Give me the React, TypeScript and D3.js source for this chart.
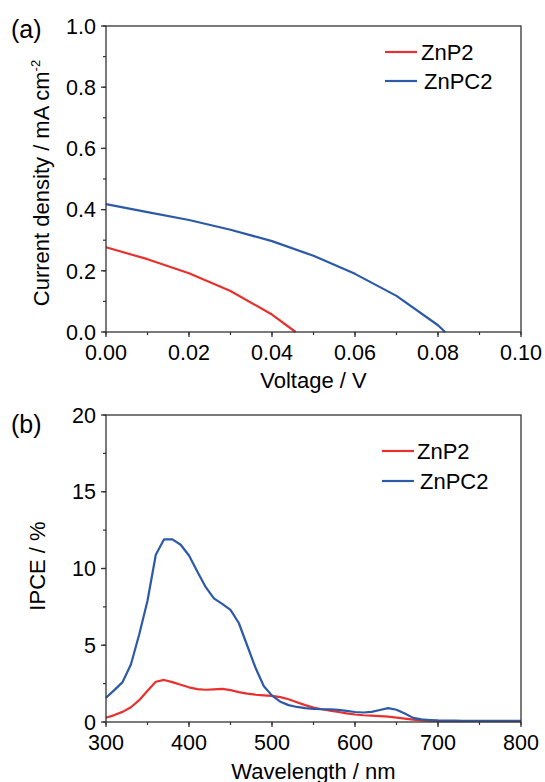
import React from "react";
import * as d3 from "d3";

const W = 545;
const H = 782;

// Panel (a): J-V curves
const voltageTicks = [0, 0.02, 0.04, 0.06, 0.08, 0.1];
const currentTicks = [0, 0.2, 0.4, 0.6, 0.8, 1.0];
const znp2Voltage = [0, 0.01, 0.02, 0.03, 0.04, 0.0457];
const znp2Current = [0.277, 0.238, 0.192, 0.134, 0.057, 0];
const znpc2Voltage = [0, 0.01, 0.02, 0.03, 0.04, 0.05, 0.06, 0.07, 0.08, 0.0817];
const znpc2Current = [0.418, 0.392, 0.366, 0.334, 0.297, 0.249, 0.19, 0.118, 0.022, 0];

// Panel (b): IPCE spectra
const wavelengthTicks = [300, 400, 500, 600, 700, 800];
const ipceTicks = [0, 5, 10, 15, 20];
const wavelength = [
  300, 310, 320, 330, 340, 350, 360, 370, 380, 390, 400, 410, 420, 430, 440, 450, 460,
  470, 480, 490, 500, 510, 520, 530, 540, 550, 560, 570, 580, 590, 600, 610, 620, 630,
  640, 650, 660, 670, 680, 690, 700, 710, 720, 730, 740, 750, 760, 770, 780, 790, 800,
];
const ipceZnP2 = [
  0.28, 0.45, 0.66, 0.96, 1.42, 2.03, 2.62, 2.74, 2.6, 2.43, 2.26, 2.14, 2.1, 2.13, 2.16,
  2.08, 1.95, 1.85, 1.78, 1.74, 1.7, 1.62, 1.48, 1.29, 1.1, 0.94, 0.83, 0.74, 0.65, 0.56,
  0.49, 0.44, 0.41, 0.38, 0.35, 0.29, 0.22, 0.15, 0.1, 0.07, 0.06, 0.05, 0.05, 0.05, 0.05,
  0.05, 0.05, 0.05, 0.05, 0.05, 0.05,
];
const ipceZnPC2 = [
  1.58, 2.08, 2.6, 3.75, 5.7, 7.9, 10.9, 11.9, 11.9, 11.55, 10.85, 9.8, 8.8, 8.05, 7.7,
  7.3, 6.45, 5.0, 3.55, 2.35, 1.72, 1.32, 1.1, 0.98, 0.9, 0.85, 0.83, 0.82, 0.79, 0.72,
  0.65, 0.62, 0.66, 0.78, 0.9, 0.8, 0.55, 0.27, 0.17, 0.13, 0.1, 0.09, 0.09, 0.08, 0.08,
  0.08, 0.08, 0.08, 0.08, 0.08, 0.08,
];

const seriesNames = ["ZnP2", "ZnPC2"];
const RED = "#e8302e";
const BLUE = "#2c5aa8";
const AXIS = "#333";
const FONT = "'Liberation Sans', Arial, Helvetica, sans-serif";

type Series = { xs: number[]; ys: number[]; color: string };

type PanelProps = {
  top: number;
  bottom: number;
  left: number;
  right: number;
  xDomain: [number, number];
  yDomain: [number, number];
  xTicks: number[];
  yTicks: number[];
  xMinorStep: number;
  yMinorStep: number;
  xFmt: (v: number) => string;
  yFmt: (v: number) => string;
  series: Series[];
  xTitle: string;
  yTitle: React.ReactNode;
  yTitleX: number;
  yTitleY: number;
  xTitleY: number;
  panelLabel: string;
  panelLabelY: number;
  legendX: number;
  legendTextX: number[];
  legendY: number[];
};

function Panel(p: PanelProps) {
  const x = d3.scaleLinear().domain(p.xDomain).range([p.left, p.right]);
  const y = d3.scaleLinear().domain(p.yDomain).range([p.bottom, p.top]);
  const xMinor = d3.range(p.xDomain[0], p.xDomain[1] + 1e-9, p.xMinorStep);
  const yMinor = d3.range(p.yDomain[0], p.yDomain[1] + 1e-9, p.yMinorStep);
  const line = d3
    .line<[number, number]>()
    .x((d) => x(d[0]))
    .y((d) => y(d[1]));
  return (
    <g fontFamily={FONT} fill="#000">
      {p.series.map((s, i) => (
        <path
          key={i}
          d={line(s.xs.map((v, j) => [v, s.ys[j]] as [number, number])) || ""}
          fill="none"
          stroke={s.color}
          strokeWidth={2.2}
          strokeLinejoin="round"
        />
      ))}
      <rect
        x={p.left}
        y={p.top}
        width={p.right - p.left}
        height={p.bottom - p.top}
        fill="none"
        stroke={AXIS}
        strokeWidth={1.3}
      />
      {xMinor.map((v, i) => (
        <line key={"xm" + i} x1={x(v)} x2={x(v)} y1={p.bottom} y2={p.bottom + 3} stroke={AXIS} strokeWidth={1.2} />
      ))}
      {yMinor.map((v, i) => (
        <line key={"ym" + i} x1={p.left} x2={p.left - 3} y1={y(v)} y2={y(v)} stroke={AXIS} strokeWidth={1.2} />
      ))}
      {p.xTicks.map((v, i) => (
        <g key={"xt" + i}>
          <line x1={x(v)} x2={x(v)} y1={p.bottom} y2={p.bottom + 5} stroke={AXIS} strokeWidth={1.3} />
          <text x={x(v)} y={p.bottom + 28} textAnchor="middle" fontSize={21.5}>
            {p.xFmt(v)}
          </text>
        </g>
      ))}
      {p.yTicks.map((v, i) => (
        <g key={"yt" + i}>
          <line x1={p.left} x2={p.left - 5} y1={y(v)} y2={y(v)} stroke={AXIS} strokeWidth={1.3} />
          <text x={p.left - 10} y={y(v)} dy="0.36em" textAnchor="end" fontSize={21.5}>
            {p.yFmt(v)}
          </text>
        </g>
      ))}
      <text x={(p.left + p.right) / 2} y={p.xTitleY} textAnchor="middle" fontSize={22}>
        {p.xTitle}
      </text>
      <text
        transform={`translate(${p.yTitleX},${p.yTitleY}) rotate(-90)`}
        textAnchor="middle"
        fontSize={22}
      >
        {p.yTitle}
      </text>
      <text x={11} y={p.panelLabelY} fontSize={25}>
        {p.panelLabel}
      </text>
      {p.series.map((s, i) => (
        <g key={"lg" + i}>
          <line
            x1={p.legendX}
            x2={p.legendX + 32}
            y1={p.legendY[i]}
            y2={p.legendY[i]}
            stroke={s.color}
            strokeWidth={2.2}
          />
          <text x={p.legendTextX[i]} y={p.legendY[i]} dy="0.36em" fontSize={22}>
            {seriesNames[i]}
          </text>
        </g>
      ))}
    </g>
  );
}

export default function App() {
  return (
    <div style={{ position: "absolute", left: 0, top: 0, width: W, height: H, background: "#fff" }}>
      <svg width={W} height={H} viewBox={`0 0 ${W} ${H}`}>
        <rect width={W} height={H} fill="#fff" />
        <Panel
          top={26}
          bottom={332}
          left={106}
          right={521}
          xDomain={[0, 0.1]}
          yDomain={[0, 1]}
          xTicks={voltageTicks}
          yTicks={currentTicks}
          xMinorStep={0.01}
          yMinorStep={0.1}
          xFmt={d3.format(".2f")}
          yFmt={d3.format(".1f")}
          series={[
            { xs: znp2Voltage, ys: znp2Current, color: RED },
            { xs: znpc2Voltage, ys: znpc2Current, color: BLUE },
          ]}
          xTitle="Voltage / V"
          yTitle={
            <>
              Current density / mA cm
              <tspan dy={-9} fontSize={13}>
                -2
              </tspan>
            </>
          }
          yTitleX={49}
          yTitleY={183}
          xTitleY={388}
          panelLabel="(a)"
          panelLabelY={38}
          legendX={385}
          legendTextX={[421, 424]}
          legendY={[52, 81]}
        />
        <Panel
          top={415}
          bottom={722}
          left={106}
          right={521}
          xDomain={[300, 800]}
          yDomain={[0, 20]}
          xTicks={wavelengthTicks}
          yTicks={ipceTicks}
          xMinorStep={50}
          yMinorStep={2.5}
          xFmt={d3.format("d")}
          yFmt={d3.format("d")}
          series={[
            { xs: wavelength, ys: ipceZnP2, color: RED },
            { xs: wavelength, ys: ipceZnPC2, color: BLUE },
          ]}
          xTitle="Wavelength / nm"
          yTitle="IPCE / %"
          yTitleX={45}
          yTitleY={566}
          xTitleY={779}
          panelLabel="(b)"
          panelLabelY={433}
          legendX={382}
          legendTextX={[417, 420]}
          legendY={[451, 481]}
        />
      </svg>
    </div>
  );
}
